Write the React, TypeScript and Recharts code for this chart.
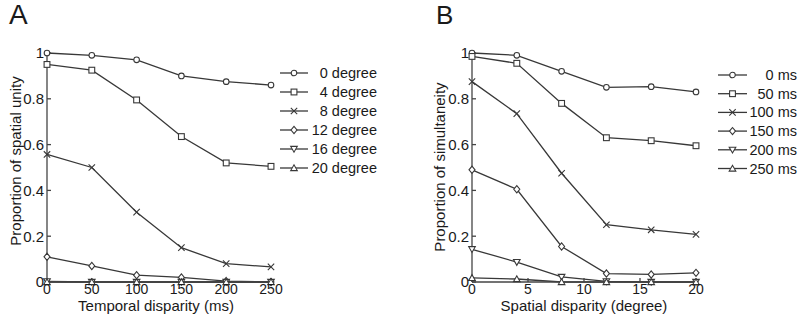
import React from 'react';
import { LineChart, Line, XAxis, YAxis } from 'recharts';

// ---------- data ----------
const temporalDisparity = [0, 50, 100, 150, 200, 250];
const labelsA = ['0 degree', '4 degree', '8 degree', '12 degree', '16 degree', '20 degree'];
const deg0 = [1.0, 0.99, 0.97, 0.9, 0.875, 0.86];
const deg4 = [0.95, 0.925, 0.795, 0.635, 0.52, 0.505];
const deg8 = [0.557, 0.5, 0.305, 0.15, 0.08, 0.066];
const deg12 = [0.11, 0.07, 0.03, 0.02, 0.004, 0.0];
const deg16 = [0.003, 0.0, 0.0, 0.0, 0.0, 0.0];
const deg20 = [0.0, 0.0, 0.0, 0.0, 0.0, 0.0];

const spatialDisparity = [0, 4, 8, 12, 16, 20];
const labelsB = ['0 ms', '50 ms', '100 ms', '150 ms', '200 ms', '250 ms'];
const ms0 = [1.0, 0.99, 0.92, 0.85, 0.853, 0.83];
const ms50 = [0.985, 0.955, 0.78, 0.63, 0.617, 0.595];
const ms100 = [0.875, 0.735, 0.475, 0.25, 0.228, 0.208];
const ms150 = [0.49, 0.405, 0.155, 0.037, 0.033, 0.04];
const ms200 = [0.143, 0.087, 0.022, 0.003, 0.0, 0.0];
const ms250 = [0.018, 0.013, 0.0, 0.0, 0.0, 0.0];

const yTicks = [0, 0.2, 0.4, 0.6, 0.8, 1];
const xTicksA = [0, 50, 100, 150, 200, 250];
const xTicksB = [0, 5, 10, 15, 20];
const markers = ['circle', 'square', 'cross', 'diamond', 'tdown', 'tup'];

const seriesA = [deg0, deg4, deg8, deg12, deg16, deg20];
const seriesB = [ms0, ms50, ms100, ms150, ms200, ms250];

const rowsA = temporalDisparity.map((x, i) => {
  const r: any = { x };
  seriesA.forEach((s, k) => (r['s' + k] = s[i]));
  return r;
});
const rowsB = spatialDisparity.map((x, i) => {
  const r: any = { x };
  seriesB.forEach((s, k) => (r['s' + k] = s[i]));
  return r;
});

// ---------- styles ----------
const FONT = '"Liberation Sans", Arial, Helvetica, sans-serif';
const LINE = '#383838';
const AXIS = '#444';
const TEXT = '#1a1a1a';

const Marker = ({ cx, cy, kind }: { cx: number; cy: number; kind: string }) => {
  if (cx == null || cy == null) return null;
  const common = { fill: '#fff', stroke: LINE, strokeWidth: 1.1 };
  switch (kind) {
    case 'circle':
      return <circle cx={cx} cy={cy} r={2.8} {...common} />;
    case 'square':
      return <rect x={cx - 2.9} y={cy - 2.9} width={5.8} height={5.8} {...common} />;
    case 'cross':
      return (
        <path
          d={`M${cx - 3.2},${cy - 3.2}L${cx + 3.2},${cy + 3.2}M${cx - 3.2},${cy + 3.2}L${cx + 3.2},${cy - 3.2}`}
          stroke={LINE}
          strokeWidth={1.1}
          fill="none"
        />
      );
    case 'diamond':
      return (
        <polygon
          points={`${cx},${cy - 3.6} ${cx + 3},${cy} ${cx},${cy + 3.6} ${cx - 3},${cy}`}
          {...common}
        />
      );
    case 'tdown':
      return (
        <polygon
          points={`${cx - 3.3},${cy - 2.6} ${cx + 3.3},${cy - 2.6} ${cx},${cy + 3.2}`}
          {...common}
        />
      );
    case 'tup':
    default:
      return (
        <polygon
          points={`${cx - 3.3},${cy + 2.6} ${cx + 3.3},${cy + 2.6} ${cx},${cy - 3.2}`}
          {...common}
        />
      );
  }
};

const fmtY = (v: number) => (v === 0 ? '0' : v === 1 ? '1' : String(v));

type PanelProps = {
  left: number;
  rows: any[];
  xDomain: [number, number];
  xTicks: number[];
  count: number;
  names: string[];
  rightMargin: number;
};

const Panel = ({ left, rows, xDomain, xTicks, count, names, rightMargin }: PanelProps) => (
  <div style={{ position: 'absolute', left, top: 0 }}>
    <LineChart
      width={271 + rightMargin}
      height={322}
      data={rows}
      margin={{ top: 53, right: rightMargin, bottom: 0, left: 0 }}
    >
      <XAxis
        dataKey="x"
        type="number"
        domain={xDomain}
        ticks={xTicks}
        height={40}
        tickSize={-4}
        tickMargin={6}
        stroke={AXIS}
        strokeWidth={1.3}
        tick={{ fill: TEXT, fontSize: 14, fontFamily: FONT }}
        interval={0}
        allowDecimals
      />
      <YAxis
        type="number"
        domain={[0, 1]}
        ticks={yTicks}
        width={47}
        tickSize={-4}
        tickMargin={7}
        tickFormatter={fmtY}
        stroke={AXIS}
        strokeWidth={1.3}
        tick={{ fill: TEXT, fontSize: 15, fontFamily: FONT }}
        interval={0}
      />
      {Array.from({ length: count }).map((_, k) => (
        <Line
          key={k}
          dataKey={'s' + k}
          name={names[k]}
          stroke={LINE}
          strokeWidth={1.3}
          isAnimationActive={false}
          activeDot={false}
          dot={(p: any) => <Marker key={`${k}-${p.index}`} cx={p.cx} cy={p.cy} kind={markers[k]} />}
        />
      ))}
    </LineChart>
  </div>
);

const LegendBox = ({
  top,
  names,
  lineStart,
  lineEnd,
  textRight,
  rowGap,
}: {
  top: number;
  names: string[];
  lineStart: number;
  lineEnd: number;
  textRight: number;
  rowGap: number;
}) => (
  <svg
    style={{ position: 'absolute', left: 0, top, overflow: 'visible' }}
    width={textRight + 2}
    height={names.length * rowGap + 10}
  >
    {names.map((n, i) => {
      const y = i * rowGap;
      const cx = (lineStart + lineEnd) / 2;
      return (
        <g key={n}>
          <line x1={lineStart} x2={lineEnd} y1={y} y2={y} stroke={LINE} strokeWidth={1.3} />
          <Marker cx={cx} cy={y} kind={markers[i]} />
          <text
            x={textRight}
            y={y + 5}
            textAnchor="end"
            fontSize={14.5}
            fontFamily={FONT}
            fill={TEXT}
          >
            {n}
          </text>
        </g>
      );
    })}
  </svg>
);

const titleStyle: React.CSSProperties = {
  position: 'absolute',
  fontSize: 15,
  whiteSpace: 'nowrap',
  lineHeight: '15px',
};

export default function App() {
  return (
    <div
      style={{
        position: 'absolute',
        left: 0,
        top: 0,
        width: 798,
        height: 322,
        background: '#fff',
        overflow: 'hidden',
        fontFamily: FONT,
        color: TEXT,
      }}
    >
      <Panel left={0} rows={rowsA} xDomain={[0, 250]} xTicks={xTicksA} count={6} names={labelsA} rightMargin={20} />
      <Panel left={425} rows={rowsB} xDomain={[0, 20]} xTicks={xTicksB} count={6} names={labelsB} rightMargin={20} />

      {/* panel letters */}
      <div style={{ position: 'absolute', left: 9, top: 0, fontSize: 28, lineHeight: '30px' }}>A</div>
      <div style={{ position: 'absolute', left: 436, top: 0, fontSize: 26, lineHeight: '30px' }}>B</div>

      {/* axis titles */}
      <div style={{ ...titleStyle, left: 156, top: 298, transform: 'translateX(-50%)' }}>
        Temporal disparity (ms)
      </div>
      <div style={{ ...titleStyle, left: 584, top: 298, transform: 'translateX(-50%)' }}>
        Spatial disparity (degree)
      </div>
      <div style={{ ...titleStyle, left: 15, top: 161, transform: 'translate(-50%, -50%) rotate(-90deg)' }}>
        Proportion of spatial unity
      </div>
      <div style={{ ...titleStyle, left: 439, top: 167, transform: 'translate(-50%, -50%) rotate(-90deg)' }}>
        Proportion of simultaneity
      </div>

      <LegendBox top={73} names={labelsA} lineStart={280} lineEnd={308} textRight={377} rowGap={19} />
      <LegendBox top={75} names={labelsB} lineStart={718} lineEnd={747} textRight={797} rowGap={18.7} />
    </div>
  );
}
